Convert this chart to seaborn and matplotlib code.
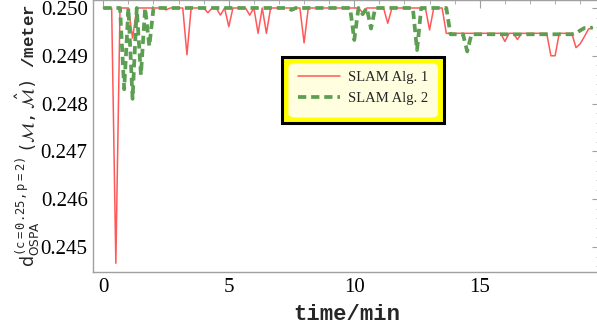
import numpy as np
import pandas as pd
import matplotlib
matplotlib.use("Agg")
import matplotlib.pyplot as plt
from matplotlib.patches import Rectangle, FancyBboxPatch
from matplotlib.ticker import MultipleLocator, FormatStrFormatter
import seaborn as sns

# one OSPA estimate every 10 s
sample_step_min = 1 / 6

series_labels = ["SLAM Alg. 1", "SLAM Alg. 2"]

alg1_ospa = [
    0.25000, 0.25000, 0.25000, 0.24466, 0.25000, 0.25000, 0.25000, 0.24937, 0.25000, 0.25000,
    0.25000, 0.25000, 0.25000, 0.25000, 0.25000, 0.24996, 0.25000, 0.25000, 0.25000, 0.25000,
    0.24902, 0.25000, 0.25000, 0.25000, 0.25000, 0.24990, 0.25000, 0.25000, 0.24985, 0.25000,
    0.24961, 0.25000, 0.25000, 0.25000, 0.25000, 0.24985, 0.25000, 0.24947, 0.25000, 0.24947,
    0.25000, 0.25000, 0.25000, 0.25000, 0.25000, 0.25000, 0.25000, 0.25000, 0.24927, 0.25000,
    0.25000, 0.25000, 0.25000, 0.25000, 0.25000, 0.25000, 0.25000, 0.25000, 0.25000, 0.25000,
    0.25000, 0.25000, 0.24990, 0.25000, 0.25000, 0.25000, 0.25000, 0.25000, 0.24968, 0.25000,
    0.25000, 0.25000, 0.25000, 0.25000, 0.25000, 0.25000, 0.25000, 0.25000, 0.24954, 0.25000,
    0.25000, 0.25000, 0.24947, 0.24947, 0.24947, 0.24947, 0.24947, 0.24947, 0.24947, 0.24947,
    0.24947, 0.24947, 0.24947, 0.24947, 0.24947, 0.24947, 0.24930, 0.24947, 0.24947, 0.24934,
    0.24947, 0.24947, 0.24947, 0.24947, 0.24947, 0.24947, 0.24947, 0.24900, 0.24900, 0.24947,
    0.24947, 0.24947, 0.24947, 0.24917, 0.24925, 0.24940, 0.24956, 0.24959,
]

alg2_ospa = [
    0.25000, 0.25000, 0.25000, 0.25000, 0.25000, 0.24830, 0.25000, 0.24810, 0.25000, 0.24860,
    0.25000, 0.24920, 0.25000, 0.25000, 0.25000, 0.25000, 0.25000, 0.25000, 0.25000, 0.25000,
    0.25000, 0.25000, 0.25000, 0.25000, 0.25000, 0.25000, 0.25000, 0.25000, 0.25000, 0.25000,
    0.25000, 0.25000, 0.25000, 0.25000, 0.25000, 0.25000, 0.25000, 0.25000, 0.25000, 0.25000,
    0.25000, 0.25000, 0.25000, 0.25000, 0.25000, 0.24996, 0.25000, 0.25000, 0.25000, 0.25000,
    0.25000, 0.25000, 0.25000, 0.25000, 0.25000, 0.25000, 0.25000, 0.25000, 0.25000, 0.25000,
    0.24933, 0.25000, 0.24987, 0.25000, 0.24957, 0.25000, 0.25000, 0.25000, 0.25000, 0.25000,
    0.25000, 0.25000, 0.25000, 0.25000, 0.25000, 0.24912, 0.25000, 0.25000, 0.25000, 0.25000,
    0.25000, 0.25000, 0.25000, 0.24945, 0.24945, 0.24945, 0.24945, 0.24909, 0.24945, 0.24945,
    0.24945, 0.24945, 0.24945, 0.24945, 0.24945, 0.24945, 0.24945, 0.24945, 0.24945, 0.24945,
    0.24945, 0.24945, 0.24945, 0.24945, 0.24945, 0.24945, 0.24945, 0.24945, 0.24945, 0.24945,
    0.24945, 0.24945, 0.24945, 0.24947, 0.24953, 0.24958, 0.24958, 0.24959,
]

time_min = np.arange(len(alg1_ospa)) * sample_step_min
df = pd.DataFrame({"time": time_min, "alg1": alg1_ospa, "alg2": alg2_ospa})

sns.set_style("white")
plt.rcParams["mathtext.fontset"] = "dejavusans"
plt.rcParams["font.family"] = ["Liberation Serif", "DejaVu Sans"]

W, H = 597, 325
fig = plt.figure(figsize=(W / 100, H / 100), dpi=100)
ax = fig.add_axes([93.3 / W, 53 / H, 506.7 / W, 272 / H])

red = "#ff5858"
green = "#5d9f52"
sns.lineplot(data=df, x="time", y="alg1", ax=ax, color=red, lw=1.1,
             label=series_labels[0])
sns.lineplot(data=df, x="time", y="alg2", ax=ax, color=green, lw=2.7,
             label=series_labels[1])
ax.lines[1].set_linestyle((0, (2.2, 1.3)))
ax.lines[1].set_dash_capstyle("butt")

ax.set_xlim(-0.398, 19.79)
ax.set_ylim(0.244477, 0.250167)
ax.xaxis.set_major_locator(MultipleLocator(5))
ax.xaxis.set_minor_locator(MultipleLocator(1))
ax.yaxis.set_major_locator(MultipleLocator(0.001))
ax.yaxis.set_minor_locator(MultipleLocator(0.0002))
ax.yaxis.set_major_formatter(FormatStrFormatter("%.3f"))

for side in ax.spines.values():
    side.set_color("#a0a0a0")
    side.set_linewidth(1.0)
ax.tick_params(which="both", direction="in", colors="#a0a0a0", top=True, right=True,
               labelcolor="black", labelsize=15, pad=4)
ax.tick_params(which="major", length=6)
ax.tick_params(which="minor", length=3)

ax.set_xlabel("time/min", fontfamily="Liberation Mono", fontweight="bold",
              fontsize=16, labelpad=5)
ax.set_ylabel(r"$\mathsf{d}_{\mathsf{OSPA}}^{\mathtt{(c=0.25,p=2)}}\,"
              r"\mathtt{(}\mathcal{M}\mathtt{,}\,\hat{\mathcal{M}}\mathtt{)}$ /meter",
              fontfamily="Liberation Mono", fontweight="bold", fontsize=12.5)
ax.yaxis.set_label_coords(-51 / 506.7, 0.5)

# legend panel: black outline, yellow border, pale rounded inner card
tf = fig.transFigure
outer = Rectangle((281.7 / W, 1 - 123.3 / H), (444 - 281.7) / W, (123.3 - 57.3) / H,
                  transform=tf, facecolor="#ffff00", edgecolor="black", lw=2.2,
                  zorder=4, clip_on=False)
inner = FancyBboxPatch((288.5 / W, 1 - 117.5 / H), (438 - 288.5) / W, (117.5 - 63.5) / H,
                       boxstyle="round,pad=0,rounding_size=0.012", transform=tf,
                       facecolor="#ffffe0", edgecolor="none", zorder=4.5, clip_on=False)
ax.add_patch(outer)
ax.add_patch(inner)
leg = ax.legend(loc="center", bbox_to_anchor=(363 / W, 1 - 88 / H), bbox_transform=tf,
                frameon=False, fontsize=10.5, handlelength=2.9, handletextpad=0.55,
                labelspacing=0.5, borderpad=0)
leg.set_zorder(6)

fig.savefig("out.png", dpi=100)
